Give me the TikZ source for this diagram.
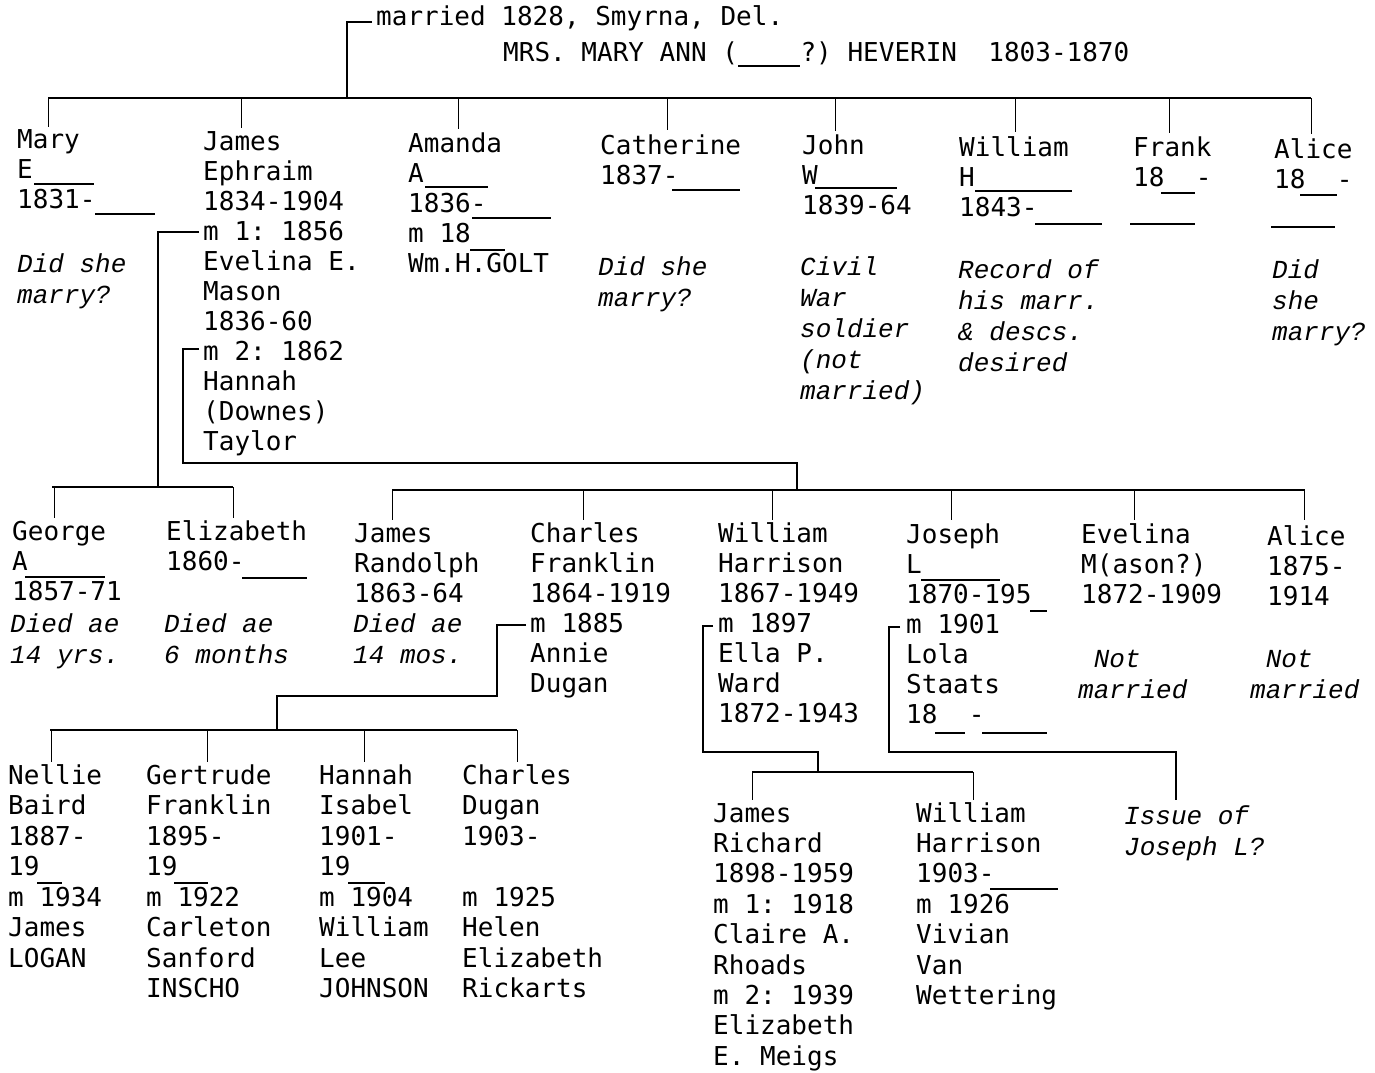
\documentclass[tikz,border=0pt]{standalone}
\usepackage{fontspec}
\frenchspacing
\newfontfamily\mainmono{DejaVu Sans Mono}
\newfontfamily\notemono{Liberation Mono}
\newcommand\rw[1]{\hbox{#1}}
\newcommand\pblock[2][30]{\vtop{\baselineskip=#1pt\lineskiplimit=-100pt\lineskip=0pt #2}}
\tikzset{
 person/.style={anchor=base west, inner sep=0pt, font=\frenchspacing\mainmono\fontsize{26}{30}\selectfont},
 note/.style={anchor=base west, inner sep=0pt, font=\frenchspacing\notemono\itshape\fontsize{26}{31}\selectfont},
 bar/.style={line width=2.4pt},
 tick/.style={line width=1pt},
 brk/.style={line width=2pt, line join=miter},
 blank/.style={line width=1.4pt},
}
\begin{document}
\begin{tikzpicture}[x=1pt,y=-1pt]
\useasboundingbox (0,0) rectangle (1375,1072);
\fill[white] (0,0) rectangle (1375,1072);

% ---------- top couple ----------
\node[person] (top) at (376,25) {married 1828, Smyrna, Del.};
\node[person] (mrs) at (503,61) {MRS. MARY ANN (\ \ \ \ ?) HEVERIN\ \ 1803-1870};
\draw[blank] (738,66) -- (800,66);
\coordinate (c0a) at (372,22);
\coordinate (c0) at (347,22);
\coordinate (bar1L) at (48,98);
\coordinate (bar1R) at (1311,98);
\draw[brk] (c0a) -- (c0) -- (c0 |- bar1L);
\draw[bar] (bar1L) -- (bar1R);

% ---------- generation 1 ----------
\node[person] (mary) at (17,148) {\pblock{\rw{Mary}\rw{E}\rw{1831-}}};
\node[person] (james) at (203,150) {\pblock{\rw{James}\rw{Ephraim}\rw{1834-1904}\rw{m 1: 1856}\rw{Evelina E.}\rw{Mason}\rw{1836-60}\rw{m 2: 1862}\rw{Hannah}\rw{(Downes)}\rw{Taylor}}};
\node[person] (amanda) at (408,152) {\pblock{\rw{Amanda}\rw{A}\rw{1836-}\rw{m 18}\rw{Wm.H.GOLT}}};
\node[person] (cath) at (600,154) {\pblock{\rw{Catherine}\rw{1837-}}};
\node[person] (john) at (802,154) {\pblock{\rw{John}\rw{W}\rw{1839-64}}};
\node[person] (will) at (959,156) {\pblock{\rw{William}\rw{H}\rw{1843-}}};
\node[person] (frank) at (1133,156) {\pblock{\rw{Frank}\rw{18\ \ -}}};
\node[person] (alice) at (1274,158) {\pblock{\rw{Alice}\rw{18\ \ -}}};

\foreach \nm/\x/\y in {Mary/48/127,James/241/128,Amanda/458/129,Cath/667/130,John/835/131,Will/1015/132,Frank/1169/133,Alice/1311/134}{
  \coordinate (t\nm) at (\x,\y);
  \draw[tick] (t\nm |- bar1L) -- (t\nm);
}

% blanks gen 1
\draw[blank] (34,184) -- (94,184);
\draw[blank] (95,214) -- (155,214);
\draw[blank] (425,187) -- (488,187);
\draw[blank] (472,218) -- (551,218);
\draw[blank] (470,250) -- (505,250);
\draw[blank] (672,190) -- (740,190);
\draw[blank] (815,188) -- (897,188);
\draw[blank] (975,191) -- (1072,191);
\draw[blank] (1035,224) -- (1102,224);
\draw[blank] (1161,193) -- (1195,193);
\draw[blank] (1130,224) -- (1195,224);
\draw[blank] (1300,195) -- (1337,195);
\draw[blank] (1271,227) -- (1335,227);

% notes gen 1
\node[note] (maryN) at (17,272) {\pblock[31]{\rw{Did she}\rw{marry?}}};
\node[note] (cathN) at (598,275) {\pblock[31]{\rw{Did she}\rw{marry?}}};
\node[note] (johnN) at (800,275) {\pblock[31]{\rw{Civil}\rw{War}\rw{soldier}\rw{(not}\rw{married)}}};
\node[note] (willN) at (958,278) {\pblock[31]{\rw{Record of}\rw{his marr.}\rw{\& descs.}\rw{desired}}};
\node[note] (aliceN) at (1272,278) {\pblock[31]{\rw{Did}\rw{she}\rw{marry?}}};

% ---------- James's marriages ----------
\coordinate (m1a) at (199,232);
\coordinate (m1c) at (158,232);
\coordinate (gbL) at (52,487);
\coordinate (gbR) at (233,487);
\draw[brk] (m1a) -- (m1c) -- (m1c |- gbL);
\draw[bar] (gbL) -- (gbR);

\coordinate (m2a) at (199,349);
\coordinate (m2c) at (183,349);
\coordinate (m2d) at (797,463);
\coordinate (bar2L) at (392,490);
\coordinate (bar2R) at (1305,490);
\draw[brk] (m2a) -- (m2c) -- (m2c |- m2d) -- (m2d) -- (m2d |- bar2L);
\draw[bar] (bar2L) -- (bar2R);

% ---------- generation 2 ----------
\node[person] (george) at (12,540) {\pblock{\rw{George}\rw{A}\rw{1857-71}}};
\node[person] (eliz) at (166,540) {\pblock{\rw{Elizabeth}\rw{1860-}}};
\node[person] (jamesr) at (354,542) {\pblock{\rw{James}\rw{Randolph}\rw{1863-64}}};
\node[person] (charles) at (530,542) {\pblock{\rw{Charles}\rw{Franklin}\rw{1864-1919}\rw{m 1885}\rw{Annie}\rw{Dugan}}};
\node[person] (willh) at (718,542) {\pblock{\rw{William}\rw{Harrison}\rw{1867-1949}\rw{m 1897}\rw{Ella P.}\rw{Ward}\rw{1872-1943}}};
\node[person] (joseph) at (906,543) {\pblock{\rw{Joseph}\rw{L}\rw{1870-195}\rw{m 1901}\rw{Lola}\rw{Staats}\rw{18\ \ -}}};
\node[person] (evelina) at (1081,543) {\pblock{\rw{Evelina}\rw{M(ason?)}\rw{1872-1909}}};
\node[person] (alice2) at (1267,545) {\pblock{\rw{Alice}\rw{1875-}\rw{1914}}};

\foreach \nm/\x in {Geo/54,Eli/233}{
  \coordinate (t\nm) at (\x,518);
  \draw[tick] (t\nm |- gbL) -- (t\nm);
}
\foreach \nm/\x in {JR/392,CF/583,WH/772,JL/951,EM/1134,AL/1304}{
  \coordinate (t\nm) at (\x,520);
  \draw[tick] (t\nm |- bar2L) -- (t\nm);
}

% notes gen 2
\node[note] (georgeN) at (10,632) {\pblock[31]{\rw{Died ae}\rw{14 yrs.}}};
\node[note] (elizN) at (164,632) {\pblock[31]{\rw{Died ae}\rw{6 months}}};
\node[note] (jamesrN) at (353,632) {\pblock[31]{\rw{Died ae}\rw{14 mos.}}};
\node[note] (evelinaN) at (1078,667) {\pblock[31]{\rw{\ Not}\rw{married}}};
\node[note] (alice2N) at (1250,667) {\pblock[31]{\rw{\ Not}\rw{married}}};

% blanks gen 2
\draw[blank] (25,577) -- (105,577);
\draw[blank] (242,578) -- (307,578);
\draw[blank] (921,580) -- (1000,580);
\draw[blank] (1030,611) -- (1047,611);
\draw[blank] (935,733) -- (965,733);
\draw[blank] (982,733) -- (1047,733);

% ---------- Charles Franklin's children ----------
\coordinate (cha) at (526,625);
\coordinate (chc) at (497,625);
\coordinate (chd) at (277,696);
\coordinate (bar3L) at (50,730);
\coordinate (bar3R) at (517,730);
\draw[brk] (cha) -- (chc) -- (chc |- chd) -- (chd) -- (chd |- bar3L);
\draw[bar] (bar3L) -- (bar3R);
\foreach \nm/\x in {NB/51,GF/207,HI/364,CD/517}{
  \coordinate (t\nm) at (\x,762);
  \draw[tick] (t\nm |- bar3L) -- (t\nm);
}
\node[person] (nellie) at (8,784) {\pblock[30.5]{\rw{Nellie}\rw{Baird}\rw{1887-}\rw{19}\rw{m 1934}\rw{James}\rw{LOGAN}}};
\node[person] (gert) at (146,784) {\pblock[30.5]{\rw{Gertrude}\rw{Franklin}\rw{1895-}\rw{19}\rw{m 1922}\rw{Carleton}\rw{Sanford}\rw{INSCHO}}};
\node[person] (hannah) at (319,784) {\pblock[30.5]{\rw{Hannah}\rw{Isabel}\rw{1901-}\rw{19}\rw{m 1904}\rw{William}\rw{Lee}\rw{JOHNSON}}};
\node[person] (charlesd) at (462,784) {\pblock[30.5]{\rw{Charles}\rw{Dugan}\rw{1903-}\rw{}\rw{m 1925}\rw{Helen}\rw{Elizabeth}\rw{Rickarts}}};
\draw[blank] (37,883) -- (62,883);
\draw[blank] (174,883) -- (208,883);
\draw[blank] (348,883) -- (385,883);

% ---------- William Harrison's children ----------
\coordinate (wa) at (713,626);
\coordinate (wc) at (703,626);
\coordinate (wd) at (818,752);
\coordinate (bar4L) at (752,772);
\coordinate (bar4R) at (973,772);
\draw[brk] (wa) -- (wc) -- (wc |- wd) -- (wd) -- (wd |- bar4L);
\draw[bar] (bar4L) -- (bar4R);
\foreach \nm/\x in {JRi/752,WHa/973}{
  \coordinate (t\nm) at (\x,800);
  \draw[tick] (t\nm |- bar4L) -- (t\nm);
}
\node[person] (jamesrich) at (713,822) {\pblock[30.4]{\rw{James}\rw{Richard}\rw{1898-1959}\rw{m 1: 1918}\rw{Claire A.}\rw{Rhoads}\rw{m 2: 1939}\rw{Elizabeth}\rw{E. Meigs}}};
\node[person] (willh2) at (916,822) {\pblock[30.4]{\rw{William}\rw{Harrison}\rw{1903-}\rw{m 1926}\rw{Vivian}\rw{Van}\rw{Wettering}}};
\draw[blank] (990,889) -- (1058,889);

% ---------- Joseph L's issue ----------
\coordinate (ja) at (900,627);
\coordinate (jc) at (889,627);
\coordinate (jd) at (1176,752);
\node[note] (issue) at (1124,824) {\pblock[31]{\rw{Issue of}\rw{Joseph L?}}};
\coordinate (jIssue) at (1176,800);
\draw[brk] (ja) -- (jc) -- (jc |- jd) -- (jd) -- (jIssue);
\end{tikzpicture}
\end{document}
